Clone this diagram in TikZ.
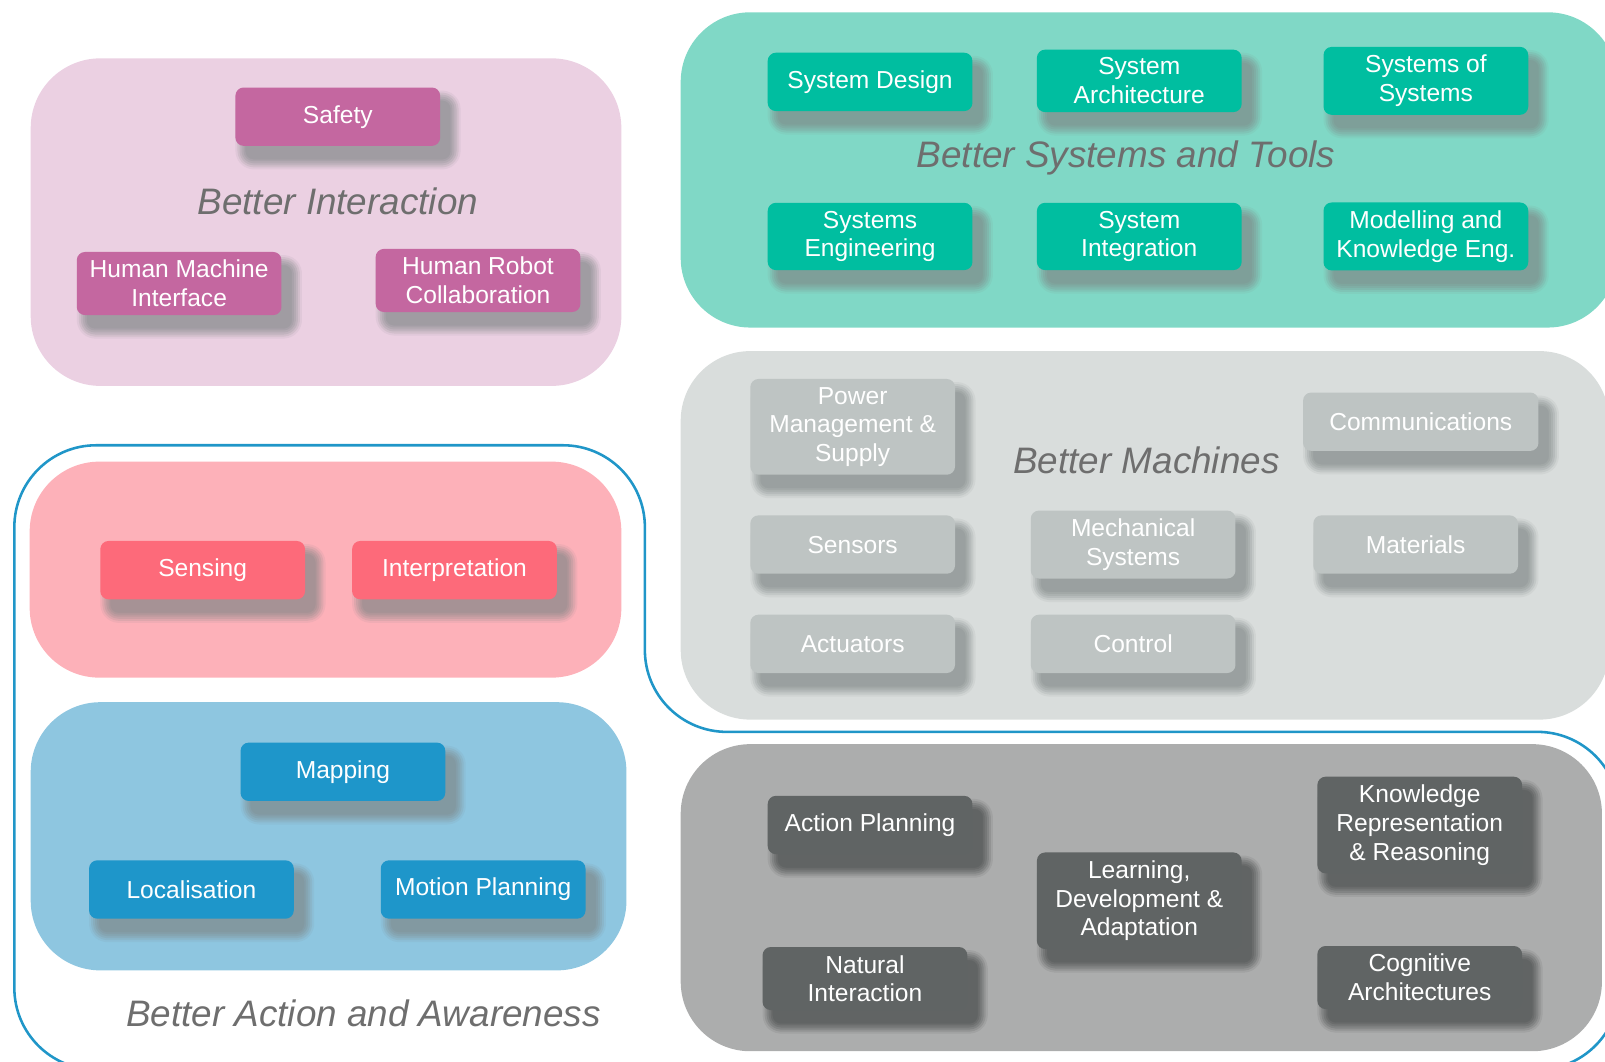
\documentclass[tikz,border=0pt]{standalone}
\usepackage{fontspec}
\setmainfont{Liberation Sans}
\usepackage{tikz}
\definecolor{ipink}{RGB}{235, 208, 226}
\definecolor{ipinkbox}{RGB}{196, 103, 160}
\definecolor{steal}{RGB}{128, 216, 198}
\definecolor{stealbox}{RGB}{0, 190, 160}
\definecolor{mgrey}{RGB}{217, 221, 220}
\definecolor{mgreybox}{RGB}{190, 196, 195}
\definecolor{cgrey}{RGB}{172, 173, 173}
\definecolor{cgreybox}{RGB}{96, 100, 100}
\definecolor{sred}{RGB}{253, 177, 185}
\definecolor{sredbox}{RGB}{253, 106, 122}
\definecolor{lblue}{RGB}{142, 198, 224}
\definecolor{lbluebox}{RGB}{30, 150, 202}
\definecolor{aline}{RGB}{32, 150, 200}
\definecolor{hgrey}{RGB}{110, 110, 110}
\definecolor{shgrey}{RGB}{125, 132, 132}
\definecolor{shdark}{RGB}{62, 65, 65}
\tikzset{shadeband/.style 2 args = {fill = #1, draw = #1, line width = #2, line join = round, transform canvas = {shift = {(5pt, -6.5pt)}}}}
\tikzset{topic/.style n args = {3}{fill = #1, rounded corners = 4pt, text = white, align = center, minimum width = 100pt, minimum height = 28.5pt, inner xsep = 4pt, inner ysep = 4pt, font = \fontsize{12}{14}\selectfont,
  preaction = {shadeband = {#2!90!#3}{10pt}}, preaction = {shadeband = {#2!76!#3}{8pt}}, preaction = {shadeband = {#2!62!#3}{6pt}},
  preaction = {shadeband = {#2!50!#3}{4pt}}, preaction = {shadeband = {#2!40!#3}{2pt}}, preaction = {shadeband = {#2!32!#3}{0.1pt}}}}
\tikzset{ibox/.style = {topic = {ipinkbox}{ipink}{shgrey}}, sbox/.style = {topic = {stealbox}{steal}{shgrey}}, mbox/.style = {topic = {mgreybox}{mgrey}{shgrey}}}
\tikzset{cbox/.style = {topic = {cgreybox}{cgrey}{shdark}}, rbox/.style = {topic = {sredbox}{sred}{shgrey}}, bbox/.style = {topic = {lbluebox}{lblue}{shgrey}}}
\tikzset{heading/.style = {text = hgrey, font = \fontsize{18}{21}\selectfont\itshape}}
\tikzset{region/.style = {rounded corners = 34pt}}

\begin{document}
\begin{tikzpicture}[x = 0.5pt, y = -0.5pt]

       \useasboundingbox (0, 0) rectangle (1568, 1037.5);
       \clip (0, 0) rectangle (1568, 1037.5);

       \fill [region, ipink] (30, 57) rectangle (607, 377);
       \fill [region, steal] (665, 12) rectangle (1580, 320);
       \fill [region, mgrey] (665, 343) rectangle (1572, 703);
       \fill [region, cgrey] (665, 727) rectangle (1565, 1027);
       \fill [region, sred] (29, 451) rectangle (607, 662);
       \fill [region, lblue] (30, 686) rectangle (612, 948);

       \draw [aline, line width = 1.25pt, rounded corners = 40pt] (14, 1045) -- (14, 435) -- (630, 435) -- (630, 715) -- (1582, 715) -- (1582, 1045) -- cycle;

       \node [ibox] (safety) at (330, 114) {Safety};
       \node [heading] (headinteraction) at (330, 197) {Better Interaction};
       \node [ibox] (hmi) at (175, 277) {Human Machine\\Interface};
       \node [ibox] (hrc) at (467, 274) {Human Robot\\Collaboration};

       \node [sbox] (sysdesign) at (850, 80) {System Design};
       \node [sbox] (sysarch) at (1113, 79) {System\\Architecture};
       \node [sbox] (sos) at (1393, 79) {Systems of\\Systems};
       \node [heading] (headsystems) at (1100, 154) {Better Systems and Tools};
       \node [sbox] (syseng) at (850, 231) {Systems\\Engineering};
       \node [sbox] (sysint) at (1113, 231) {System\\Integration};
       \node [sbox] (modelling) at (1393, 231) {Modelling and\\Knowledge Eng.};

       \node [mbox] (power) at (833, 417) {Power\\Management \&\\Supply};
       \node [heading] (headmachines) at (1120, 450) {Better Machines};
       \node [mbox, minimum width = 115pt] (comms) at (1388, 412) {Communications};
       \node [mbox] (sensors) at (833, 532) {Sensors};
       \node [mbox] (mech) at (1107, 532) {Mechanical\\Systems};
       \node [mbox] (materials) at (1383, 532) {Materials};
       \node [mbox] (actuators) at (833, 629) {Actuators};
       \node [mbox] (control) at (1107, 629) {Control};

       \node [cbox] (actionplan) at (850, 806) {Action Planning};
       \node [cbox] (knowrep) at (1387, 806) {Knowledge\\Representation\\\& Reasoning};
       \node [cbox] (learning) at (1113, 880) {Learning,\\Development \&\\Adaptation};
       \node [cbox] (natural) at (845, 956) {Natural\\Interaction};
       \node [cbox] (cognitive) at (1387, 955) {Cognitive\\Architectures};

       \node [rbox] (sensing) at (198, 557) {Sensing};
       \node [rbox] (interp) at (444, 557) {Interpretation};

       \node [bbox] (mapping) at (335, 754) {Mapping};
       \node [bbox] (localisation) at (187, 869) {Localisation};
       \node [bbox] (motionplan) at (472, 869) {Motion Planning};
       \node [heading] (headaction) at (355, 990) {Better Action and Awareness};
    \end{tikzpicture}
\end{document}
